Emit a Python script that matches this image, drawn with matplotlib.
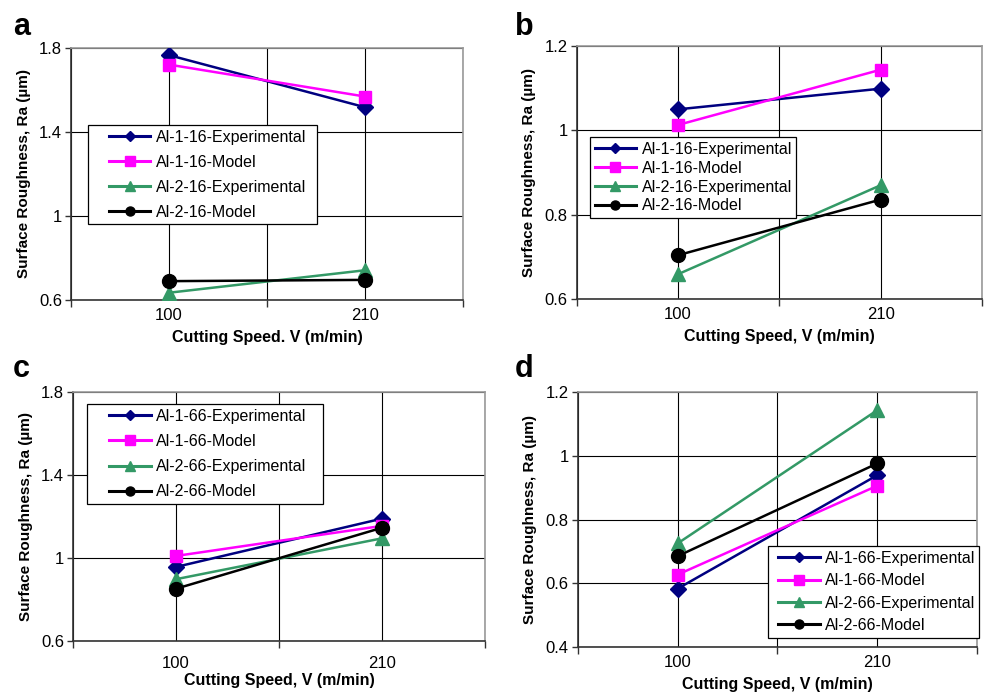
import numpy as np
import matplotlib
matplotlib.use("Agg")
import matplotlib.pyplot as plt
from matplotlib.lines import Line2D
from matplotlib.legend_handler import HandlerLine2D
from matplotlib.ticker import FuncFormatter

plt.rcParams['font.family'] = ['Liberation Sans', 'DejaVu Sans']

speeds = ['100', '210']

# panel a (feed 16)
a_exp1 = [1.765, 1.517]
a_mod1 = [1.72, 1.568]
a_exp2 = [0.635, 0.742]
a_mod2 = [0.69, 0.696]
# panel b
b_exp1 = [1.05, 1.099]
b_mod1 = [1.013, 1.144]
b_exp2 = [0.659, 0.870]
b_mod2 = [0.704, 0.836]
# panel c (feed 66)
c_exp1 = [0.957, 1.19]
c_mod1 = [1.01, 1.155]
c_exp2 = [0.898, 1.095]
c_mod2 = [0.852, 1.146]
# panel d
d_exp1 = [0.583, 0.939]
d_mod1 = [0.627, 0.906]
d_exp2 = [0.725, 1.143]
d_mod2 = [0.685, 0.976]

names16 = ['Al-1-16-Experimental', 'Al-1-16-Model', 'Al-2-16-Experimental', 'Al-2-16-Model']
names66 = ['Al-1-66-Experimental', 'Al-1-66-Model', 'Al-2-66-Experimental', 'Al-2-66-Model']

colors = ['#000080', '#ff00ff', '#339966', '#000000']
markers = ['D', 's', '^', 'o']
msizes = [8.5, 9, 10, 10]
lsizes = [5.5, 7, 7, 6.5]

fig = plt.figure(figsize=(9.86, 6.93), dpi=100)

# rect, legend box (x0, y0, w, h in axes coords), label spacing, handle x-pad
panels = [
    dict(tag='a', rect=[0.072, 0.567, 0.398, 0.364], data=[a_exp1, a_mod1, a_exp2, a_mod2],
         names=names16, ylim=(0.6, 1.8), step=0.4, xlabel='Cutting Speed. V (m/min)',
         leg=(0.0434, 0.285, 0.584, 0.409), lsp=0.62, xpad=1.0, tpad=6, lpad=4.5,
         tagpos=(13, 35)),
    dict(tag='b', rect=[0.585, 0.5685, 0.411, 0.365], data=[b_exp1, b_mod1, b_exp2, b_mod2],
         names=names16, ylim=(0.6, 1.2), step=0.2, xlabel='Cutting Speed, V (m/min)',
         leg=(0.032, 0.316, 0.509, 0.324), lsp=0.24, xpad=0.0, tpad=6, lpad=5,
         tagpos=(515, 35)),
    dict(tag='c', rect=[0.074, 0.075, 0.418, 0.3593], data=[c_exp1, c_mod1, c_exp2, c_mod2],
         names=names66, ylim=(0.6, 1.8), step=0.4, xlabel='Cutting Speed, V (m/min)',
         leg=(0.034, 0.526, 0.573, 0.426), lsp=0.64, xpad=1.1, tpad=11, lpad=1,
         tagpos=(13, 377)),
    dict(tag='d', rect=[0.586, 0.0664, 0.405, 0.3679], data=[d_exp1, d_mod1, d_exp2, d_mod2],
         names=names66, ylim=(0.4, 1.2), step=0.2, xlabel='Cutting Speed, V (m/min)',
         leg=(0.476, 0.031, 0.529, 0.365), lsp=0.46, xpad=0.35, tpad=6, lpad=4.5,
         tagpos=(515, 377)),
]

x = np.array([1, 3])
W, H = 986.0, 693.0

for p in panels:
    ax = fig.add_axes(p['rect'])
    for ser, c, m, ms in zip(p['data'], colors, markers, msizes):
        ax.plot(x, ser, color=c, marker=m, markersize=ms, linewidth=1.8, zorder=3)
    ax.set_xlim(0, 4)
    ax.set_ylim(*p['ylim'])
    ax.set_yticks(np.arange(p['ylim'][0], p['ylim'][1] + 1e-9, p['step']))
    ax.yaxis.set_major_formatter(FuncFormatter(lambda v, pos: '%g' % round(v, 2)))
    ax.set_xticks([0, 2, 4])
    ax.set_xticklabels([])
    ax.set_xticks(x, minor=True)
    ax.set_xticklabels(speeds, minor=True)
    ax.tick_params(axis='x', which='minor', length=0, pad=p['tpad'], labelsize=12)
    ax.tick_params(axis='x', which='major', length=5, width=1, color='#333333')
    ax.tick_params(axis='y', length=4.5, width=1, color='#333333', labelsize=12, pad=2)
    ax.grid(True, which='major', axis='y', color='black', linewidth=0.8)
    ax.grid(True, which='both', axis='x', color='black', linewidth=0.8)
    ax.set_axisbelow(True)
    for s in ['left', 'bottom']:
        ax.spines[s].set_color('#333333')
        ax.spines[s].set_linewidth(1.2)
    for s in ['top', 'right']:
        ax.spines[s].set_color('#999999')
        ax.spines[s].set_linewidth(1.2)
    ax.set_xlabel(p['xlabel'], fontweight='bold', fontsize=11.5, labelpad=p['lpad'])
    ax.set_ylabel('Surface Roughness, Ra (µm)', fontweight='bold', fontsize=11, labelpad=6)

    handles = [Line2D([], [], color=c, marker=m, markersize=ls, linewidth=2.2)
               for c, m, ls in zip(colors, markers, lsizes)]
    hl = 2.6 + p['xpad']
    leg = ax.legend(handles, p['names'], loc='upper left', bbox_to_anchor=p['leg'],
                    mode='expand', fontsize=11.5, frameon=True, fancybox=False,
                    framealpha=1, edgecolor='black', handlelength=hl,
                    handletextpad=0.35, labelspacing=p['lsp'], borderpad=0.3,
                    borderaxespad=0,
                    handler_map={Line2D: HandlerLine2D(xpad=p['xpad'])})
    leg.get_frame().set_linewidth(0.9)
    leg.set_zorder(5)

    fig.text(p['tagpos'][0] / W, 1 - p['tagpos'][1] / H, p['tag'],
             fontsize=22, fontweight='bold', ha='left', va='baseline')

fig.savefig('out.png', dpi=100)
